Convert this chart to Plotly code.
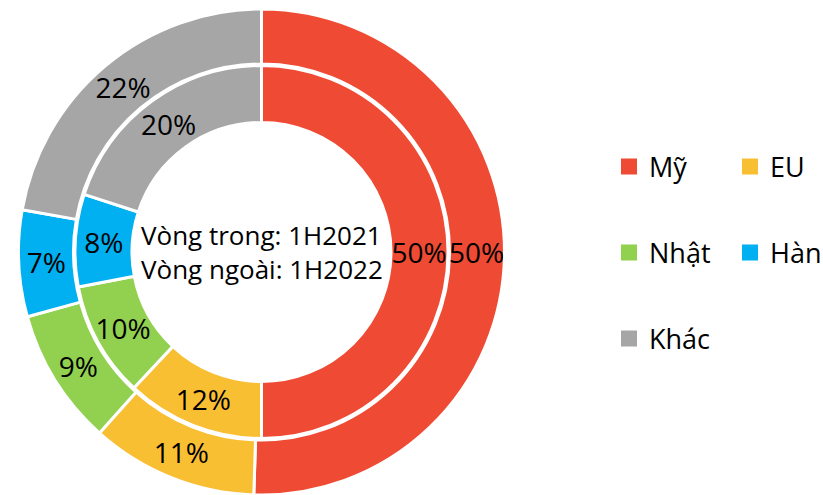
import plotly.graph_objects as go

labels = ["Mỹ", "EU", "Nhật", "Hàn", "Khác"]
inner_values = [50, 12, 10, 8, 20]   # 1H2021
outer_values = [50, 11, 9, 7, 22]    # 1H2022
inner_text = ["50%", "12%", "10%", "8%", "20%"]
outer_text = ["50%", "11%", "9%", "7%", "22%"]
colors = ["#EF4A33", "#F9BF33", "#92D050", "#00B0F0", "#A6A6A6"]
legend_rows = [["Mỹ", "EU"], ["Nhật", "Hàn"], ["Khác"]]

W, H = 823, 495
FONT = "Open Sans, Noto Sans, sans-serif"

cx, cy = 261.5, 252.0
def dom(r):
    return dict(x=[max(0, (cx - r) / W), min(1, (cx + r) / W)],
                y=[max(0, (H - cy - r) / H), min(1, (H - cy + r) / H)])

fig = go.Figure()
fig.add_trace(go.Pie(
    labels=labels, values=outer_values, text=outer_text, textinfo="text",
    sort=False, direction="clockwise", rotation=0, hole=188.0 / 243.0,
    domain=dom(243.0), marker=dict(colors=colors, line=dict(color="white", width=3)),
    textposition="inside", insidetextorientation="horizontal",
    textfont=dict(size=28, color="black", family=FONT),
    showlegend=False, hoverinfo="label+text",
))
fig.add_trace(go.Pie(
    labels=labels, values=inner_values, text=inner_text, textinfo="text",
    sort=False, direction="clockwise", rotation=0, hole=129.5 / 186.5,
    domain=dom(186.5), marker=dict(colors=colors, line=dict(color="white", width=3)),
    textposition="inside", insidetextorientation="horizontal",
    textfont=dict(size=28, color="black", family=FONT),
    showlegend=False, hoverinfo="label+text",
))

cmap = dict(zip(labels, colors))
legend_names = ["legend", "legend2", "legend3"]
for row, lname in zip(legend_rows, legend_names):
    for j, lab in enumerate(row):
        fig.add_trace(go.Scatter(
            x=[None], y=[None], mode="markers", name=lab, legend=lname,
            marker=dict(symbol="square", size=18, color=cmap[lab]),
            showlegend=True, legendwidth=76 if j == 0 else 58,
        ))

row_y = [167, 253, 339]
legend_common = dict(orientation="h", entrywidthmode="pixels",
                     font=dict(size=27, family=FONT, color="black"),
                     bgcolor="rgba(0,0,0,0)", itemsizing="trace",
                     xanchor="left", yanchor="middle", tracegroupgap=0)
layout_legends = {}
for lname, yv in zip(legend_names, row_y):
    layout_legends[lname] = dict(x=609 / W, y=1 - yv / H, **legend_common)

fig.update_layout(
    width=W, height=H,
    margin=dict(l=0, r=0, t=0, b=0, autoexpand=False),
    paper_bgcolor="white", plot_bgcolor="white",
    xaxis=dict(visible=False), yaxis=dict(visible=False),
    uniformtext=dict(minsize=28, mode="show"),
    annotations=[dict(
        x=cx / W, y=1 - cy / H, xref="paper", yref="paper",
        text="Vòng trong: 1H2021<br>Vòng ngoài: 1H2022",
        showarrow=False, align="left",
        font=dict(size=26, family=FONT, color="black"),
        xanchor="center", yanchor="middle",
    )],
    **layout_legends,
)

fig.write_html("out.html", config={"displayModeBar": False},
               post_script="document.body.style.margin='0';document.body.style.overflow='hidden';")
